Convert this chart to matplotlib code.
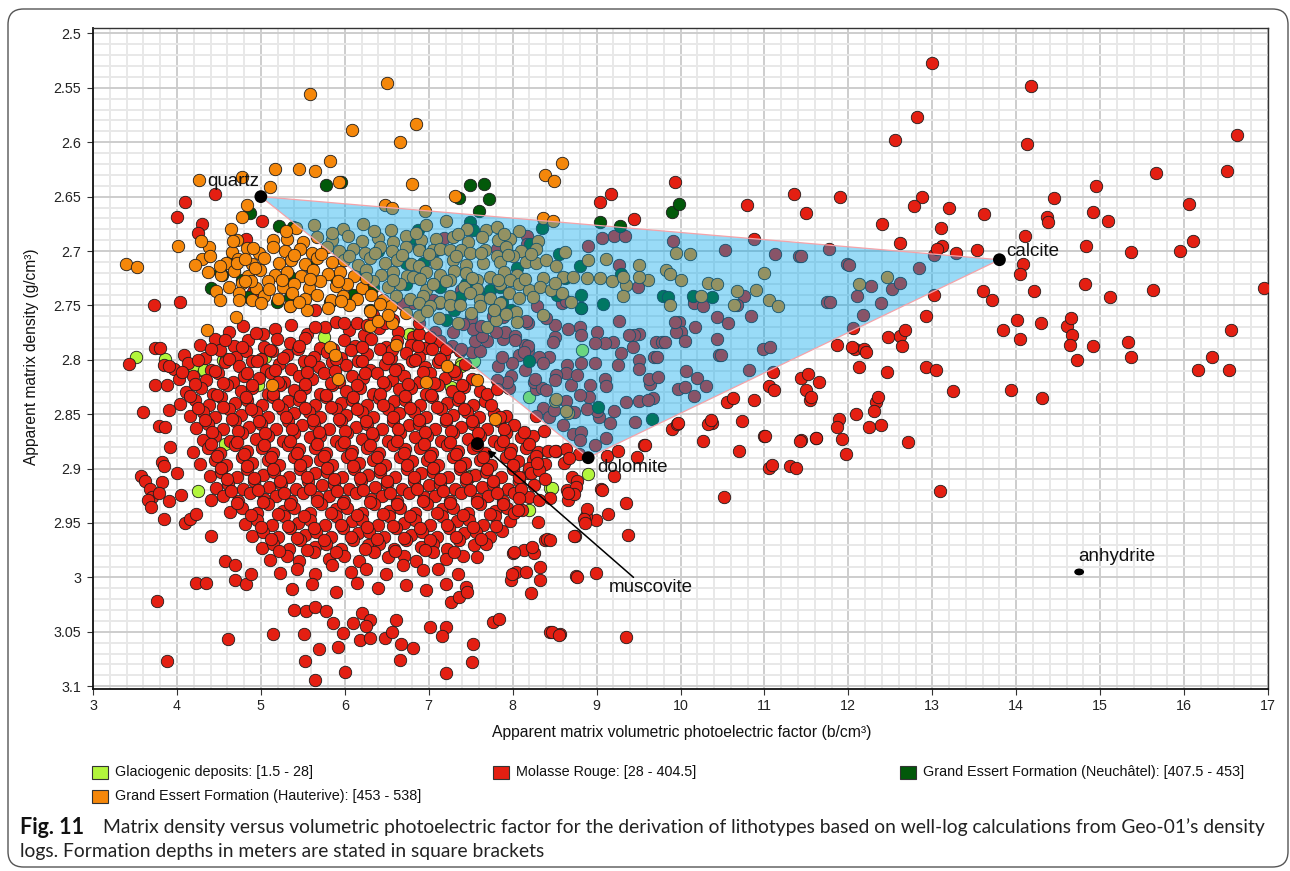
import matplotlib
matplotlib.use("Agg")
import matplotlib.pyplot as plt
from matplotlib.patches import Polygon, Rectangle, FancyBboxPatch, Ellipse
from matplotlib.ticker import MultipleLocator, FuncFormatter

plt.rcParams['font.family'] = ['Liberation Sans', 'DejaVu Sans']

# ---------------- data ----------------
glacio_pts = [(3.51,2.797),(3.86,2.799),(4.29,2.809),(4.55,2.800),(4.59,2.799),(4.57,2.877),(5.75,2.779),
              (5.05,2.797),(5.54,2.805),(6.79,2.776),(7.39,2.803),(7.53,2.802),(8.44,2.918),(8.19,2.938),
              (7.26,2.825),(7.49,2.907),(4.97,2.823),(4.25,2.921),(8.90,2.905),(8.47,2.918),(8.83,2.791),
              (7.54,2.801),(8.20,2.834),(7.38,2.806),(7.48,2.908),(4.19,2.806),(4.32,2.809),(6.77,2.776)]

molasse_core = [
 (4.62,2.774),(4.79,2.769),(5.17,2.772),(5.36,2.768),(5.55,2.776),(5.76,2.770),(6.05,2.773),(6.23,2.777),(6.41,2.771),(6.64,2.774),(6.81,2.779),(7.08,2.774),
 (4.27,2.786),(4.45,2.781),(4.68,2.787),(4.85,2.782),(5.04,2.788),(5.19,2.781),(5.35,2.785),(5.53,2.780),(5.70,2.789),(5.99,2.782),(6.12,2.787),(6.31,2.781),(6.49,2.788),(6.62,2.783),(6.79,2.786),(6.95,2.789),(7.13,2.783),(7.28,2.787),
 (4.08,2.796),(4.33,2.798),(4.51,2.791),(4.70,2.797),(4.82,2.792),(5.00,2.799),(5.13,2.792),(5.31,2.796),(5.44,2.790),(5.63,2.797),(5.79,2.793),(5.95,2.798),(6.07,2.791),(6.26,2.795),(6.42,2.790),(6.55,2.798),(6.73,2.794),(6.89,2.797),(7.04,2.790),(7.18,2.796),(7.37,2.792),
 (3.96,2.808),(4.13,2.803),(4.41,2.809),(4.57,2.802),(4.74,2.806),(4.90,2.801),(5.06,2.809),(5.22,2.804),(5.36,2.808),(5.51,2.801),(5.69,2.807),(5.85,2.802),(6.01,2.805),(6.16,2.801),(6.30,2.809),(6.48,2.804),(6.64,2.808),(6.80,2.801),(6.96,2.807),(7.11,2.802),(7.25,2.808),(7.43,2.804),
 (4.03,2.818),(4.19,2.815),(4.35,2.819),(4.49,2.812),(4.67,2.820),(4.80,2.815),(4.98,2.817),(5.12,2.812),(5.28,2.820),(5.46,2.815),(5.61,2.818),(5.75,2.812),(5.93,2.820),(6.09,2.815),(6.22,2.817),(6.38,2.812),(6.56,2.819),(6.70,2.815),(6.88,2.820),(7.01,2.812),(7.19,2.817),(7.33,2.813),(7.51,2.818),
 (4.11,2.830),(4.29,2.826),(4.43,2.831),(4.60,2.823),(4.76,2.829),(4.90,2.826),(5.08,2.831),(5.23,2.823),(5.39,2.828),(5.53,2.826),(5.71,2.831),(5.85,2.823),(6.02,2.829),(6.18,2.826),(6.34,2.831),(6.48,2.823),(6.65,2.827),(6.79,2.826),(6.97,2.831),(7.11,2.823),(7.28,2.829),(7.42,2.825),(7.61,2.829),
 (4.04,2.841),(4.22,2.837),(4.38,2.842),(4.52,2.834),(4.69,2.840),(4.83,2.837),(5.01,2.842),(5.15,2.834),(5.32,2.838),(5.46,2.837),(5.64,2.842),(5.78,2.834),(5.96,2.840),(6.09,2.837),(6.27,2.842),(6.41,2.835),(6.59,2.838),(6.72,2.837),(6.90,2.842),(7.04,2.834),(7.22,2.840),(7.35,2.837),(7.53,2.842),(7.67,2.838),
 (4.15,2.852),(4.31,2.848),(4.45,2.853),(4.62,2.845),(4.76,2.851),(4.94,2.848),(5.08,2.853),(5.25,2.845),(5.39,2.849),(5.57,2.848),(5.71,2.853),(5.89,2.845),(6.02,2.851),(6.20,2.848),(6.34,2.853),(6.52,2.845),(6.65,2.849),(6.83,2.848),(6.97,2.853),(7.15,2.845),(7.29,2.851),(7.46,2.848),(7.60,2.853),(7.78,2.849),(7.92,2.852),
 (4.23,2.863),(4.37,2.859),(4.55,2.864),(4.69,2.856),(4.86,2.862),(5.00,2.859),(5.18,2.864),(5.32,2.856),(5.49,2.860),(5.63,2.859),(5.81,2.864),(5.95,2.856),(6.13,2.862),(6.26,2.859),(6.44,2.864),(6.58,2.856),(6.76,2.860),(6.89,2.859),(7.07,2.864),(7.21,2.856),(7.39,2.862),(7.53,2.859),(7.70,2.864),(7.84,2.856),(8.02,2.860),
 (4.31,2.874),(4.45,2.870),(4.63,2.875),(4.77,2.867),(4.94,2.873),(5.08,2.870),(5.26,2.875),(5.40,2.867),(5.58,2.871),(5.71,2.870),(5.89,2.875),(6.03,2.867),(6.21,2.873),(6.34,2.870),(6.52,2.875),(6.66,2.867),(6.84,2.871),(6.98,2.870),(7.15,2.875),(7.29,2.867),(7.47,2.873),(7.61,2.870),(7.78,2.875),(7.92,2.867),(8.10,2.871),(8.24,2.870),
 (4.19,2.885),(4.37,2.881),(4.51,2.886),(4.69,2.878),(4.83,2.884),(5.01,2.881),(5.14,2.886),(5.32,2.878),(5.46,2.882),(5.64,2.881),(5.78,2.886),(5.95,2.878),(6.09,2.884),(6.27,2.881),(6.41,2.886),(6.58,2.878),(6.72,2.882),(6.90,2.881),(7.04,2.886),(7.22,2.878),(7.35,2.884),(7.53,2.881),(7.67,2.886),(7.85,2.878),(7.98,2.882),(8.16,2.881),(8.30,2.885),
 (4.27,2.896),(4.45,2.892),(4.59,2.897),(4.77,2.889),(4.90,2.895),(5.08,2.892),(5.22,2.897),(5.40,2.889),(5.54,2.893),(5.71,2.892),(5.85,2.897),(6.03,2.889),(6.17,2.895),(6.34,2.892),(6.48,2.897),(6.66,2.889),(6.80,2.893),(6.98,2.892),(7.11,2.897),(7.29,2.889),(7.43,2.895),(7.61,2.892),(7.74,2.897),(7.92,2.889),(8.06,2.893),(8.24,2.892),(8.38,2.896),
 (4.39,2.907),(4.53,2.903),(4.71,2.908),(4.84,2.900),(5.02,2.906),(5.16,2.903),(5.34,2.908),(5.47,2.900),(5.65,2.904),(5.79,2.903),(5.97,2.908),(6.11,2.900),(6.28,2.906),(6.42,2.903),(6.60,2.908),(6.74,2.900),(6.91,2.904),(7.05,2.903),(7.23,2.908),(7.37,2.900),(7.55,2.906),(7.68,2.903),(7.86,2.908),(8.00,2.900),(8.18,2.904),
 (4.47,2.918),(4.61,2.914),(4.79,2.919),(4.92,2.911),(5.10,2.917),(5.24,2.914),(5.42,2.919),(5.56,2.911),(5.73,2.915),(5.87,2.914),(6.05,2.919),(6.19,2.911),(6.36,2.917),(6.50,2.914),(6.68,2.919),(6.82,2.911),(7.00,2.915),(7.13,2.914),(7.31,2.919),(7.45,2.911),(7.63,2.917),(7.76,2.914),(7.94,2.919),(8.08,2.911),(8.26,2.915),
 (4.41,2.929),(4.55,2.925),(4.73,2.930),(4.87,2.922),(5.04,2.928),(5.18,2.925),(5.36,2.930),(5.50,2.922),(5.67,2.926),(5.81,2.925),(5.99,2.930),(6.13,2.922),(6.31,2.928),(6.44,2.925),(6.62,2.930),(6.76,2.922),(6.94,2.926),(7.08,2.925),(7.25,2.930),(7.39,2.922),(7.57,2.928),(7.71,2.925),(7.88,2.930),(8.02,2.922),(8.20,2.926),
 (4.63,2.940),(4.77,2.936),(4.95,2.941),(5.09,2.933),(5.26,2.939),(5.40,2.936),(5.58,2.941),(5.72,2.933),(5.89,2.937),(6.03,2.936),(6.21,2.941),(6.35,2.933),(6.53,2.939),(6.66,2.936),(6.84,2.941),(6.98,2.933),(7.16,2.937),(7.29,2.936),(7.47,2.941),(7.61,2.933),(7.79,2.939),(7.93,2.936),(8.11,2.938),
 (4.81,2.951),(4.95,2.947),(5.13,2.952),(5.27,2.944),(5.44,2.950),(5.58,2.947),(5.76,2.952),(5.90,2.944),(6.08,2.948),(6.21,2.947),(6.39,2.952),(6.53,2.944),(6.71,2.950),(6.84,2.947),(7.02,2.952),(7.16,2.944),(7.34,2.948),(7.48,2.947),(7.65,2.952),(7.79,2.944),(7.97,2.948),
 (4.89,2.962),(5.03,2.958),(5.21,2.963),(5.35,2.955),(5.52,2.961),(5.66,2.958),(5.84,2.963),(5.98,2.955),(6.16,2.959),(6.29,2.958),(6.47,2.963),(6.61,2.955),(6.79,2.961),(6.92,2.958),(7.10,2.963),(7.24,2.955),(7.42,2.959),(7.56,2.958),(7.73,2.963),(7.87,2.957),
 (5.01,2.973),(5.15,2.969),(5.33,2.974),(5.47,2.966),(5.64,2.972),(5.78,2.969),(5.96,2.974),(6.10,2.966),(6.28,2.970),(6.41,2.969),(6.59,2.974),(6.73,2.966),(6.91,2.972),(7.05,2.969),(7.22,2.974),(7.36,2.966),(7.54,2.970),(7.68,2.969),
 (5.11,2.984),(5.31,2.980),(5.45,2.985),(5.63,2.977),(5.81,2.983),(5.99,2.980),(6.17,2.985),(6.35,2.977),(6.51,2.981),(6.71,2.980),(6.85,2.985),(7.05,2.977),(7.21,2.983),(7.41,2.980),(7.57,2.981),
 (5.23,2.996),(5.43,2.992),(5.65,2.997),(5.85,2.989),(6.07,2.995),(6.25,2.992),(6.49,2.997),(6.69,2.989),(6.93,2.993),(7.11,2.992),(7.35,2.997),
 (5.37,3.011),(5.61,3.006),(5.89,3.013),(6.15,3.005),(6.39,3.010),(6.73,3.007),(6.97,3.012),(7.21,3.006)]

molasse_core2 = [
 (4.41,2.790),(4.77,2.788),(5.11,2.791),(5.45,2.787),(5.86,2.790),(6.21,2.788),(6.56,2.791),(6.87,2.787),(7.21,2.790),
 (4.25,2.800),(4.62,2.799),(4.95,2.801),(5.26,2.798),(5.58,2.801),(5.90,2.799),(6.20,2.801),(6.52,2.798),(6.84,2.800),(7.14,2.799),
 (4.06,2.811),(4.45,2.810),(4.83,2.812),(5.17,2.809),(5.55,2.811),(5.88,2.810),(6.24,2.812),(6.60,2.809),(6.93,2.811),(7.30,2.810),
 (4.21,2.822),(4.55,2.821),(4.89,2.823),(5.20,2.820),(5.53,2.822),(5.83,2.821),(6.14,2.823),(6.45,2.820),(6.75,2.822),(7.06,2.821),(7.40,2.823),
 (4.16,2.833),(4.48,2.832),(4.82,2.834),(5.15,2.831),(5.47,2.833),(5.78,2.832),(6.10,2.834),(6.42,2.831),(6.72,2.833),(7.03,2.832),(7.36,2.834),(7.70,2.831),
 (4.25,2.844),(4.55,2.843),(4.88,2.845),(5.20,2.842),(5.52,2.844),(5.84,2.843),(6.15,2.845),(6.46,2.842),(6.78,2.844),(7.10,2.843),(7.42,2.845),(7.74,2.842),
 (4.33,2.855),(4.66,2.854),(4.98,2.856),(5.30,2.853),(5.62,2.855),(5.93,2.854),(6.25,2.856),(6.57,2.853),(6.88,2.855),(7.20,2.854),(7.52,2.856),(7.85,2.853),
 (4.42,2.866),(4.73,2.865),(5.05,2.867),(5.37,2.864),(5.69,2.866),(6.00,2.865),(6.32,2.867),(6.64,2.864),(6.95,2.866),(7.27,2.865),(7.59,2.867),(7.90,2.864),(8.13,2.866),
 (4.40,2.877),(4.72,2.876),(5.04,2.878),(5.35,2.875),(5.67,2.877),(5.99,2.876),(6.30,2.878),(6.62,2.875),(6.94,2.877),(7.25,2.876),(7.57,2.878),(7.89,2.875),(8.20,2.877),
 (4.48,2.888),(4.80,2.887),(5.12,2.889),(5.43,2.886),(5.75,2.888),(6.07,2.887),(6.38,2.889),(6.70,2.886),(7.02,2.888),(7.33,2.887),(7.65,2.889),(7.97,2.886),(8.28,2.888),
 (4.52,2.899),(4.84,2.898),(5.15,2.900),(5.47,2.897),(5.79,2.899),(6.10,2.898),(6.42,2.900),(6.74,2.897),(7.05,2.899),(7.37,2.898),(7.69,2.900),(8.00,2.897),(8.20,2.899),
 (4.60,2.910),(4.92,2.909),(5.23,2.911),(5.55,2.908),(5.87,2.910),(6.18,2.909),(6.50,2.911),(6.82,2.908),(7.13,2.910),(7.45,2.909),(7.77,2.911),(8.08,2.908),
 (4.64,2.921),(4.96,2.920),(5.27,2.922),(5.59,2.919),(5.91,2.921),(6.22,2.920),(6.54,2.922),(6.86,2.919),(7.17,2.921),(7.49,2.920),(7.81,2.922),(8.10,2.919),
 (4.72,2.932),(5.03,2.931),(5.35,2.933),(5.67,2.930),(5.98,2.932),(6.30,2.931),(6.62,2.933),(6.93,2.930),(7.25,2.932),(7.57,2.931),(7.88,2.933),
 (4.88,2.943),(5.20,2.942),(5.51,2.944),(5.83,2.941),(6.15,2.943),(6.46,2.942),(6.78,2.944),(7.10,2.941),(7.41,2.943),(7.73,2.942),
 (5.00,2.954),(5.32,2.953),(5.63,2.955),(5.95,2.952),(6.27,2.954),(6.58,2.953),(6.90,2.955),(7.22,2.952),(7.53,2.954),(7.80,2.953),
 (5.12,2.965),(5.43,2.964),(5.75,2.966),(6.07,2.963),(6.38,2.965),(6.70,2.964),(7.02,2.966),(7.33,2.963),(7.62,2.965),
 (5.22,2.976),(5.55,2.975),(5.90,2.977),(6.24,2.974),(6.60,2.976),(6.95,2.975),(7.30,2.977)]

molasse_fringe = [
 (3.43,2.804),(3.73,2.750),(4.04,2.747),(3.74,2.789),(3.80,2.789),(3.74,2.823),(3.88,2.823),(3.84,2.805),(3.90,2.806),
 (3.59,2.848),(3.79,2.861),(3.86,2.862),(3.91,2.846),(3.92,2.880),(3.82,2.894),(3.84,2.898),(3.82,2.912),(3.57,2.907),
 (3.62,2.911),(3.68,2.919),(3.70,2.926),(3.66,2.929),(3.79,2.922),(3.69,2.935),(3.84,2.946),(3.90,2.930),(4.00,2.904),
 (4.05,2.924),(4.10,2.950),(4.15,2.946),(4.23,2.942),(3.76,3.022),(3.88,3.077),(4.61,3.057),(4.23,3.005),(4.35,3.005),
 (4.40,2.962),(4.57,2.985),(4.69,2.989),(4.69,3.002),(4.82,3.006),(4.88,2.997),(5.15,3.052),(5.51,3.052),(5.69,3.066),
 (5.52,3.077),(5.64,3.094),(6.00,3.087),(5.92,3.064),(5.40,3.030),(5.54,3.031),(5.65,3.027),(5.78,3.031),(5.86,3.042),
 (5.98,3.051),(6.10,3.042),(6.20,3.033),(6.30,3.039),(6.25,3.045),(6.18,3.058),(6.30,3.056),(6.48,3.056),(6.56,3.050),
 (6.61,3.039),(6.67,3.061),(6.66,3.076),(6.81,3.065),(7.01,3.046),(7.21,3.046),(7.16,3.054),(7.20,3.088),(7.51,3.078),
 (7.53,3.061),(7.77,3.041),(7.84,3.038),(7.26,3.023),(7.36,3.018),(7.44,3.009),(7.46,3.013),(8.00,2.978),(8.14,2.975),
 (8.22,3.014),(8.32,3.002),(8.32,2.990),(8.04,2.995),(7.98,3.002),(8.45,3.050),(8.56,3.052),(8.74,2.962),(8.76,2.999),
 (4.45,2.648),(4.10,2.655),(4.00,2.669),(4.30,2.675),(4.25,2.683),(4.82,2.689),(5.01,2.672),(4.91,2.738),(5.35,2.751),
 (5.64,2.754),(5.02,2.776),(4.94,2.775),(4.57,2.782),(5.64,2.770),(5.90,2.765),(5.99,2.766),(6.14,2.766),(6.26,2.768),
 (6.34,2.759),(6.48,2.766),(6.58,2.763),(6.89,2.776),(7.01,2.779),
 (8.37,2.865),(8.42,2.884),(8.52,2.884),(8.63,2.882),(8.79,2.887),(8.61,2.895),(8.67,2.890),(8.22,2.904),(8.31,2.901),
 (8.38,2.910),(8.71,2.908),(8.77,2.911),(8.65,2.920),(8.75,2.917),(8.66,2.929),(8.44,2.927),(8.31,2.929),(8.07,2.927),
 (8.02,2.941),(8.06,2.938),(8.30,2.949),(8.38,2.966),(8.41,2.965),(8.73,2.962),(8.25,2.978),(8.23,2.972),(8.02,2.977),
 (8.16,2.995),(7.99,2.997),(8.77,3.000),(8.99,2.996),(9.14,2.942),(9.35,2.932),(9.38,2.961),(9.05,2.919),(9.21,2.907),
 (9.13,2.888),(9.26,2.884),(9.48,2.889),(9.57,2.878),(8.99,2.947),(8.87,2.944),(8.89,2.937),(8.85,2.946),(8.86,2.950),
 (8.73,2.923),(8.66,2.922),(8.50,2.884),(9.35,3.055),(8.47,3.050),(8.55,3.053),(8.44,2.966),(9.06,2.920),(9.90,2.864),
 (9.96,2.859),(9.58,2.878),(10.52,2.926),(9.97,2.858),(10.37,2.858),(8.29,2.895)]

molasse_tri = [
 (9.06,2.688),(9.21,2.686),(9.34,2.686),(8.90,2.695),(9.91,2.691),(10.53,2.699),(10.87,2.689),(11.13,2.703),(11.41,2.705),
 (11.77,2.698),(11.98,2.712),(9.27,2.713),(9.49,2.733),(10.16,2.744),(10.16,2.748),(10.27,2.751),(10.76,2.741),(10.67,2.750),
 (11.75,2.747),(11.78,2.747),(10.43,2.761),(10.56,2.766),(10.84,2.760),(9.98,2.765),(10.00,2.774),(9.95,2.774),(10.17,2.770),
 (9.27,2.764),(10.98,2.790),(11.07,2.788),(10.46,2.796),(10.82,2.809),(10.06,2.810),(10.20,2.817),(10.30,2.824),(9.97,2.827),
 (10.05,2.825),(10.16,2.833),(9.71,2.784),(9.78,2.784),(9.82,2.784),(9.68,2.797),(9.72,2.797),(9.50,2.776),(9.44,2.777),
 (9.39,2.777),(9.43,2.788),(9.50,2.800),(9.51,2.808),(9.01,2.774),(9.19,2.784),(9.10,2.785),(8.98,2.785),(8.80,2.770),
 (8.81,2.777),(8.66,2.772),(8.51,2.779),(8.48,2.784),(8.43,2.797),(8.81,2.803),(8.98,2.803),(8.65,2.805),(8.63,2.812),
 (8.52,2.814),(8.70,2.823),(8.77,2.814),(8.92,2.823),(9.10,2.818),(9.11,2.824),(9.25,2.805),(9.29,2.794),(9.64,2.822),
 (9.62,2.818),(9.73,2.816),(9.67,2.835),(9.51,2.838),(9.61,2.837),(10.44,2.781),(10.48,2.796),(9.93,2.765),(10.05,2.783),
 (8.36,2.844),(8.28,2.852),(8.28,2.827),(8.26,2.820),(8.43,2.853),(8.60,2.860),(8.72,2.868),(8.81,2.866),(8.80,2.874),
 (8.98,2.878),(9.11,2.872),(9.03,2.853),(9.16,2.858),(9.21,2.847),(9.46,2.857),(9.35,2.839),(8.65,2.846),(8.73,2.848),
 (8.91,2.834),(8.80,2.832),(9.01,2.847),(8.88,2.845),(8.49,2.846),(8.63,2.838),(8.35,2.826),(8.40,2.828),(8.50,2.819),
 (8.15,2.809),(8.27,2.818),(8.08,2.796),(8.18,2.791),(8.15,2.786),(7.99,2.803),(7.98,2.815),(7.96,2.826),(7.93,2.820),
 (7.83,2.806),(7.81,2.819),(7.81,2.827),(7.89,2.781),(7.91,2.774),(8.03,2.778),(7.80,2.774),(7.69,2.783),(7.87,2.797),
 (7.52,2.793),(7.61,2.792),(7.50,2.762),(7.55,2.783),(7.63,2.778),(7.39,2.790),(7.53,2.772),(7.62,2.769),(7.77,2.760),
 (7.88,2.761),(8.18,2.766),(8.03,2.782),(8.18,2.787),(8.13,2.793),(8.31,2.797),(8.36,2.803),(8.50,2.768),(8.82,2.752),
 (8.59,2.748),(8.63,2.746),(8.29,2.751),(8.16,2.764),(8.40,2.762),(8.17,2.686),(8.17,2.694),(7.81,2.698),(7.41,2.767),
 (7.29,2.774),(7.18,2.688),(6.88,2.766),(6.81,2.748),(6.69,2.749),(7.05,2.745),(7.12,2.748),(7.38,2.736),(12.01,2.713),
 (12.84,2.716),(13.02,2.704),(13.28,2.702),(12.10,2.741),(12.27,2.732),(12.52,2.735),(12.61,2.729),(12.39,2.748),
 (12.17,2.759),(11.44,2.705)]

molasse_right = [
 (13.00,2.527),(14.18,2.548),(12.82,2.577),(16.63,2.593),(12.55,2.598),(14.13,2.602),(15.67,2.628),(16.51,2.626),
 (14.95,2.640),(11.90,2.650),(12.88,2.650),(11.50,2.665),(12.78,2.659),(13.20,2.660),(13.62,2.666),(14.45,2.651),
 (16.06,2.657),(14.91,2.664),(15.09,2.672),(14.37,2.669),(14.38,2.673),(12.40,2.675),(13.10,2.679),(14.10,2.686),
 (16.11,2.691),(12.62,2.693),(13.12,2.695),(13.06,2.698),(13.53,2.699),(14.83,2.695),(15.37,2.701),(15.95,2.700),
 (16.95,2.734),(14.08,2.712),(14.05,2.721),(13.02,2.740),(13.60,2.737),(13.71,2.745),(14.21,2.737),(14.82,2.730),
 (15.12,2.742),(15.63,2.736),(12.93,2.760),(12.05,2.771),(12.47,2.779),(12.61,2.778),(12.67,2.773),(14.01,2.763),
 (14.29,2.766),(13.84,2.773),(14.05,2.781),(14.60,2.769),(14.65,2.762),(14.66,2.777),(14.64,2.786),(14.91,2.787),
 (15.33,2.784),(16.56,2.773),(11.87,2.786),(12.08,2.790),(12.19,2.790),(12.64,2.787),(16.33,2.797),(16.17,2.809),
 (16.54,2.809),(15.37,2.797),(14.73,2.800),(14.31,2.835),(13.94,2.828),(13.09,2.921),(12.71,2.876),(12.09,2.850),
 (12.24,2.862),(12.39,2.860),(12.33,2.839),(11.89,2.854),(11.87,2.862),(11.93,2.873),(11.97,2.887),(11.62,2.872),
 (11.43,2.874),(11.30,2.898),(11.38,2.899),(11.05,2.899),(11.09,2.897),(11.00,2.870),(10.70,2.884),(10.73,2.856),
 (10.27,2.875),(10.33,2.859),(10.36,2.855),(10.55,2.839),(10.88,2.837),(11.54,2.837),(9.04,2.655),(9.17,2.648),
 (9.94,2.637),(9.44,2.671),(10.79,2.658),(11.35,2.648),(11.10,2.811),(11.05,2.824),(11.11,2.828),(11.43,2.817),
 (11.52,2.813),(11.65,2.820),(11.50,2.828),(11.55,2.834),(10.63,2.835),(11.01,2.870),(11.42,2.875),(11.61,2.872),
 (12.04,2.788),(12.21,2.793),(12.13,2.807),(12.46,2.811),(12.93,2.807),(13.04,2.809),(13.25,2.829),(12.35,2.834),
 (12.31,2.847)]

neuchatel_pts = [
 (5.78,2.639),(5.96,2.637),(5.22,2.677),(4.87,2.665),(4.51,2.719),(4.54,2.722),(4.41,2.734),(4.85,2.742),(5.19,2.747),
 (5.82,2.747),(5.38,2.678),(4.67,2.705),(4.78,2.727),(5.35,2.724),(5.35,2.742),(6.34,2.733),(6.30,2.754),(7.49,2.639),
 (7.66,2.638),(7.72,2.652),(7.36,2.651),(7.60,2.663),(9.04,2.673),(9.28,2.677),(9.90,2.664),(9.98,2.657),(6.87,2.681),
 (6.81,2.688),(7.49,2.673),(7.53,2.681),(8.35,2.679),(8.21,2.694),(8.80,2.714),(8.82,2.740),(8.82,2.752),(9.08,2.749),
 (8.53,2.740),(9.29,2.721),(9.79,2.741),(9.85,2.742),(10.15,2.741),(10.38,2.742),(8.20,2.801),(9.02,2.843),(9.66,2.854),
 (7.98,2.754),(7.87,2.747),(7.30,2.754),(7.21,2.763),(7.37,2.742),(7.65,2.742),(7.73,2.736),(7.85,2.733),(7.05,2.730),
 (6.73,2.730),(6.93,2.711),(7.13,2.733),(7.45,2.730),(6.65,2.705),(6.73,2.711),(6.89,2.696),(7.09,2.699),(6.02,2.705),
 (6.20,2.720),(6.40,2.700),(6.10,2.740),(5.60,2.715),(5.90,2.725),(8.55,2.703),(8.62,2.725),(7.95,2.690),(8.05,2.716)]

hauterive_pts = [
 (5.42,2.679),(5.63,2.676),(5.98,2.680),(6.22,2.675),(6.55,2.681),(6.97,2.676),(7.21,2.672),(7.46,2.680),(7.68,2.681),(7.81,2.678),(8.08,2.682),
 (4.72,2.690),(5.15,2.690),(5.31,2.689),(5.50,2.692),(5.67,2.687),(5.85,2.690),(6.04,2.686),(6.21,2.691),(6.40,2.688),(6.58,2.692),(6.73,2.686),(6.91,2.690),(7.09,2.689),(7.29,2.687),(7.47,2.692),(7.63,2.687),(7.82,2.690),(7.97,2.689),(8.30,2.691),
 (4.66,2.701),(4.84,2.697),(4.98,2.702),(5.15,2.696),(5.29,2.700),(5.47,2.698),(5.61,2.702),(5.79,2.696),(5.93,2.700),(6.10,2.698),(6.24,2.702),(6.42,2.696),(6.56,2.700),(6.73,2.696),(6.89,2.699),(7.05,2.699),(7.13,2.698),(7.25,2.699),(7.39,2.699),(7.49,2.702),(7.67,2.699),(7.81,2.705),(7.92,2.696),(8.10,2.700),(8.28,2.698),(8.62,2.701),
 (4.58,2.711),(4.73,2.707),(4.90,2.712),(5.04,2.706),(5.22,2.711),(5.36,2.708),(5.53,2.712),(5.67,2.706),(5.85,2.710),(5.99,2.708),(6.16,2.713),(6.30,2.706),(6.48,2.711),(6.62,2.708),(6.79,2.712),(6.89,2.714),(7.09,2.711),(7.29,2.708),(7.45,2.713),(7.65,2.711),(7.85,2.710),(8.00,2.705),(8.16,2.710),(8.28,2.711),(8.40,2.708),(8.52,2.714),(8.90,2.708),(9.11,2.707),
 (4.53,2.722),(4.68,2.718),(4.85,2.723),(4.99,2.717),(5.17,2.722),(5.31,2.719),(5.48,2.723),(5.62,2.717),(5.80,2.721),(5.94,2.719),(6.11,2.723),(6.25,2.717),(6.43,2.722),(6.57,2.719),(6.74,2.723),(6.81,2.724),(6.97,2.719),(7.14,2.722),(7.30,2.718),(7.45,2.720),(7.57,2.727),(7.73,2.724),(7.90,2.719),(8.05,2.722),(8.36,2.725),(8.60,2.724),(8.72,2.724),(8.88,2.725),(9.04,2.725),
 (4.62,2.733),(4.77,2.729),(4.94,2.734),(5.08,2.728),(5.26,2.733),(5.40,2.730),(5.57,2.734),(5.71,2.728),(5.89,2.732),(6.03,2.730),(6.20,2.734),(6.34,2.728),(6.52,2.733),(6.66,2.730),(6.97,2.736),(7.05,2.730),(7.25,2.727),(7.42,2.733),(7.57,2.735),(7.85,2.730),(7.97,2.727),(8.08,2.730),(8.20,2.736),(8.32,2.733),(8.46,2.736),(8.59,2.739),(9.18,2.728),(9.35,2.731),
 (4.47,2.737),(4.74,2.739),(4.90,2.745),(5.04,2.741),(5.21,2.744),(5.37,2.739),(5.52,2.744),(5.67,2.740),(5.84,2.745),(5.98,2.741),(6.15,2.744),(6.31,2.740),(6.46,2.745),(6.61,2.741),(6.78,2.744),(6.93,2.741),(7.13,2.747),(7.25,2.741),(7.49,2.739),(7.61,2.745),(7.73,2.743),(7.96,2.739),(8.08,2.743),(8.24,2.742),(8.70,2.747),(9.32,2.741),
 (4.51,2.745),(5.35,2.751),(5.55,2.754),(5.80,2.752),(6.05,2.750),(6.30,2.755),(6.55,2.751),(6.73,2.757),(6.89,2.748),(7.01,2.751),(7.25,2.750),(7.37,2.750),(7.61,2.751),(7.78,2.754),(7.85,2.748),(8.04,2.756),(8.36,2.759),
 (4.70,2.761),(6.89,2.760),(7.12,2.762),(7.35,2.766),(7.69,2.770),(7.80,2.763),(8.05,2.765),
 (5.40,2.704),(5.72,2.703),(6.05,2.705),(6.36,2.702),(6.68,2.704),(7.00,2.703),(7.33,2.705),(7.62,2.702),(7.95,2.704),(8.22,2.703),
 (5.25,2.727),(5.58,2.726),(5.92,2.728),(6.25,2.725),(6.58,2.727),(6.90,2.726),(7.20,2.728),(7.52,2.725),(7.82,2.727),(8.15,2.726),(8.50,2.729),
 (5.00,2.748),(5.45,2.747),(5.95,2.746),(6.42,2.749),(6.98,2.755),(7.50,2.757),(7.92,2.758),
 (5.30,2.682),(5.85,2.683),(6.35,2.682),(6.85,2.683),(7.35,2.684),(7.90,2.684),(4.93,2.716),(5.10,2.735),(4.88,2.728),
 (3.39,2.712),(3.52,2.715),(4.01,2.695),(4.26,2.635),(4.78,2.632),(5.11,2.641),(5.17,2.625),(5.45,2.625),(5.64,2.626),
 (5.82,2.617),(5.93,2.637),(6.09,2.589),(5.59,2.556),(6.50,2.546),(6.66,2.600),(6.85,2.583),(6.80,2.638),(6.48,2.658),
 (6.56,2.660),(6.96,2.663),(4.83,2.658),(4.77,2.669),(4.64,2.680),(4.67,2.691),(4.38,2.696),(4.29,2.691),(4.30,2.707),
 (4.39,2.705),(4.21,2.713),(4.37,2.719),(4.51,2.714),(4.71,2.711),(4.81,2.707),(4.91,2.697),(4.74,2.745),(4.81,2.728),
 (4.36,2.773),(7.31,2.649),(8.38,2.630),(8.49,2.636),(8.59,2.619),(8.36,2.670),(8.48,2.672),(5.82,2.788),(5.88,2.796),
 (5.92,2.818),(5.13,2.823),(6.61,2.786),(6.97,2.820),(7.22,2.806),(7.58,2.819),(7.79,2.854),(6.30,2.769),(6.39,2.764),
 (6.56,2.766),(6.52,2.759),(8.66,2.849),(8.51,2.838),(8.52,2.836),(8.64,2.847),(9.50,2.713),(9.83,2.717),(9.88,2.721),
 (10.00,2.727),(9.95,2.702),(10.11,2.703),(10.33,2.729),(10.44,2.730),(10.67,2.737),(10.90,2.736),(11.05,2.745),
 (11.16,2.751),(11.00,2.720),(10.64,2.750),(9.87,2.750),(10.24,2.741),(9.61,2.727),(9.50,2.724),(9.31,2.724),
 (12.13,2.730),(12.46,2.724),(7.78,2.754)]

legend_labels = ["Glaciogenic deposits: [1.5 - 28]", "Molasse Rouge: [28 - 404.5]",
                 "Grand Essert Formation (Neuchâtel): [407.5 - 453]", "Grand Essert Formation (Hauterive): [453 - 538]"]
series_colors = ['#b2f53c', '#e41f12', '#02590a', '#f5870a']

triangle_x = [5.0, 13.8, 8.9]          # quartz, calcite, dolomite
triangle_y = [2.65, 2.708, 2.89]
mineral_x = [5.0, 13.8, 8.9, 7.58]     # quartz, calcite, dolomite, muscovite
mineral_y = [2.65, 2.708, 2.89, 2.877]
anhydrite_xy = (14.75, 2.995)

caption_bold = "Fig. 11"
caption_l1 = "Matrix density versus volumetric photoelectric factor for the derivation of lithotypes based on well-log calculations from Geo-01\u2019s density"
caption_l2 = "logs. Formation depths in meters are stated in square brackets"

# ---------------- figure ----------------
W, H = 1290, 871
fig = plt.figure(figsize=(W/100, H/100), dpi=100)
fx = lambda px: px / W
fy = lambda py: 1 - py / H

ax = fig.add_axes([fx(93), fy(689), fx(1268) - fx(93), fy(28) - fy(689)])
ax.set_xlim(3, 17)
ax.set_ylim(3.1026, 2.4950)

ax.xaxis.set_major_locator(MultipleLocator(1))
ax.xaxis.set_minor_locator(MultipleLocator(0.2))
ax.yaxis.set_major_locator(MultipleLocator(0.05))
ax.yaxis.set_minor_locator(MultipleLocator(0.01))
ax.yaxis.set_major_formatter(FuncFormatter(lambda v, p: '{:g}'.format(round(v, 2))))
ax.xaxis.set_major_formatter(FuncFormatter(lambda v, p: '{:g}'.format(round(v, 2))))
ax.grid(which='minor', color='#e8e8e8', lw=1.4, zorder=0)
ax.grid(which='major', color='#cdcdcd', lw=1.4, zorder=0)
ax.set_axisbelow(True)
ax.tick_params(which='minor', length=0)
ax.tick_params(which='major', length=4, width=0.8, color='#333333', labelsize=10.3, labelcolor='#222222')
ax.tick_params(axis='x', pad=3.5)
ax.tick_params(axis='y', pad=4.5)
for s in ax.spines.values():
    s.set_color('#333333'); s.set_linewidth(1.0)
ax.spines['left'].set_color('#111111'); ax.spines['bottom'].set_color('#111111')
ax.spines['left'].set_linewidth(1.3); ax.spines['bottom'].set_linewidth(1.3)

mk = dict(s=80, edgecolors='#1c1c1c', linewidths=0.6)
molasse_pts = molasse_core + molasse_core2 + molasse_fringe + molasse_tri + molasse_right
for pts, col, z in [(glacio_pts, series_colors[0], 2), (molasse_pts, series_colors[1], 3),
                    (neuchatel_pts, series_colors[2], 4), (hauterive_pts, series_colors[3], 5)]:
    ax.scatter([p[0] for p in pts], [p[1] for p in pts], color=col, zorder=z, **mk)

tri = list(zip(triangle_x, triangle_y))
ax.add_patch(Polygon(tri, closed=True, facecolor=(0.0, 0.647, 0.92, 0.40), edgecolor='none', zorder=6))
ax.add_patch(Polygon(tri, closed=True, fill=False, edgecolor='#f5a3a9', lw=0.9, zorder=6.5))

ax.scatter(mineral_x, mineral_y, color='black', s=85, zorder=7, edgecolors='none')
ax.add_patch(Ellipse(anhydrite_xy, 0.10, 0.0050, color='black', zorder=7))

tk = dict(fontsize=13.5, color='#111111', va='center', ha='left', zorder=8)
ax.text(4.36, 2.6357, 'quartz', **tk)
ax.text(13.88, 2.700, 'calcite', **tk)
ax.text(9.01, 2.899, 'dolomite', **tk)
ax.text(9.15, 3.009, 'muscovite', **tk)
ax.text(14.74, 2.981, 'anhydrite', **tk)
ax.annotate('', xy=(7.70, 2.883), xytext=(9.44, 3.0),
            arrowprops=dict(arrowstyle='-|>', color='black', lw=1.1, mutation_scale=11,
                            shrinkA=0, shrinkB=0), zorder=8)

fig.text(fx(682), fy(733), 'Apparent matrix volumetric photoelectric factor (b/cm³)',
         ha='center', va='center', fontsize=11.3, color='#111111')
fig.text(fx(32), fy(357), 'Apparent matrix density (g/cm³)', rotation=90,
         ha='center', va='center', fontsize=11.2, color='#111111')

# legend (manual)
leg_pos = [(92, 772), (493, 772), (900, 772), (92, 796)]
for (px, py), lab, col in zip(leg_pos, legend_labels, series_colors):
    fig.patches.append(Rectangle((fx(px), fy(py + 6.5)), fx(16), 13 / H, transform=fig.transFigure,
                                 facecolor=col, edgecolor='#333333', lw=0.8))
    fig.text(fx(px + 23), fy(py), lab, ha='left', va='center', fontsize=10.4, color='#111111')

# outer rounded frame
fig.patches.append(FancyBboxPatch((fx(8), fy(867)), fx(1280), 858 / H,
                                  boxstyle='round,pad=0,rounding_size=0.012', mutation_aspect=W / H,
                                  transform=fig.transFigure, fill=False, edgecolor='#555555', lw=1.0))

# caption
cap_font = ['Lato', 'DejaVu Sans']
tb = fig.text(fx(20), fy(827), caption_bold, ha='left', va='center', fontsize=13, fontweight='bold',
              family=cap_font, color='#111111')
t1 = fig.text(fx(103), fy(827), caption_l1, ha='left', va='center', fontsize=13, family=cap_font, color='#222222')
t2 = fig.text(fx(20), fy(851), caption_l2, ha='left', va='center', fontsize=13, family=cap_font, color='#222222')
fig.canvas.draw()
r = fig.canvas.get_renderer()
scale = (1262 - 103) / t1.get_window_extent(r).width
t1.set_fontsize(13 * scale)
t2.set_fontsize(13 * scale)
bscale = 68 / tb.get_window_extent(r).width
tb.set_fontsize(13 * min(bscale, scale * 1.12))
fig.savefig('out.png', dpi=100)
